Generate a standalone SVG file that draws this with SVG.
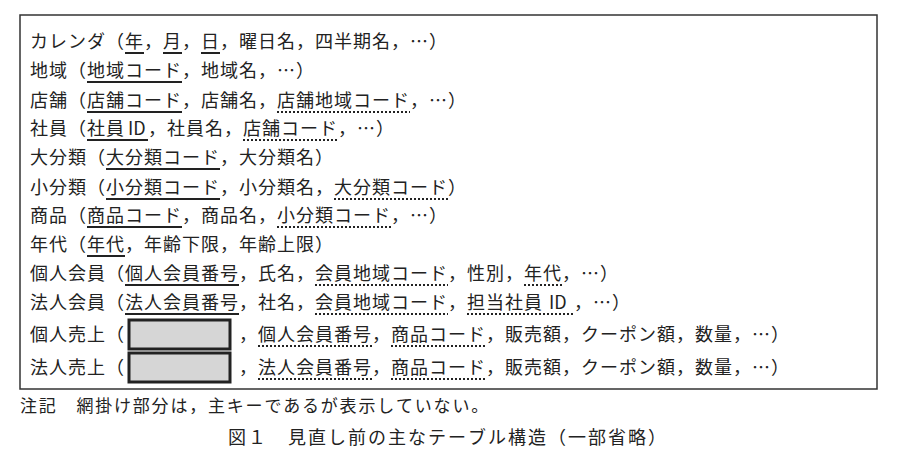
<svg xmlns="http://www.w3.org/2000/svg" width="897" height="467" viewBox="0 0 897 467">
<style>
text{font-family:"Noto Sans CJK JP","Noto Sans",sans-serif;font-size:18px;fill:#222}
.pk{stroke:#222;stroke-width:2}
.fk{stroke:#222;stroke-width:2;stroke-dasharray:2 2}
.hid{fill:#d6d6d6;stroke:#222;stroke-width:3}
</style>
<rect width="897" height="467" fill="#fff"/>
<rect x="20" y="15" width="857" height="374" fill="none" stroke="#333" stroke-width="1.5"/>
<g id="rows">
<text x="30 49 68 87 106 125 144 163 182 201 220 239 258 277 296 315 334 353 372 391 410 429 448 467 486 505 524 543 562 581 600 619 638 657 676 695" y="48">カレンダ（年，月，日，曜日名，四半期名，…）</text>
<text x="30 49 68 87 106 125 144 163 182 201 220 239 258 277 296 315 334 353 372 391 410 429 448 467 486 505 524 543 562 581 600 619 638 657 676 695" y="77">地域（地域コード，地域名，…）</text>
<text x="30 49 68 87 106 125 144 163 182 201 220 239 258 277 296 315 334 353 372 391 410 429 448 467 486 505 524 543 562 581 600 619 638 657 676 695" y="107">店舗（店舗コード，店舗名，店舗地域コード，…）</text>
<text x="30 49 68 87 106" y="135">社員（社員</text>
<text x="128" y="135">ID</text>
<text x="148 167 186 205 224 243 262 281 300 319 338 357 376" y="135">，社員名，店舗コード，…）</text>
<text x="30 49 68 87 106 125 144 163 182 201 220 239 258 277 296 315 334 353 372 391 410 429 448 467 486 505 524 543 562 581 600 619 638 657 676 695" y="164">大分類（大分類コード，大分類名）</text>
<text x="30 49 68 87 106 125 144 163 182 201 220 239 258 277 296 315 334 353 372 391 410 429 448 467 486 505 524 543 562 581 600 619 638 657 676 695" y="194">小分類（小分類コード，小分類名，大分類コード）</text>
<text x="30 49 68 87 106 125 144 163 182 201 220 239 258 277 296 315 334 353 372 391 410 429 448 467 486 505 524 543 562 581 600 619 638 657 676 695" y="222">商品（商品コード，商品名，小分類コード，…）</text>
<text x="30 49 68 87 106 125 144 163 182 201 220 239 258 277 296 315 334 353 372 391 410 429 448 467 486 505 524 543 562 581 600 619 638 657 676 695" y="251">年代（年代，年齢下限，年齢上限）</text>
<text x="30 49 68 87 106 125 144 163 182 201 220 239 258 277 296 315 334 353 372 391 410 429 448 467 486 505 524 543 562 581 600 619 638 657 676 695" y="280">個人会員（個人会員番号，氏名，会員地域コード，性別，年代，…）</text>
<text x="30 49 68 87 106 125 144 163 182 201 220 239 258 277 296 315 334 353 372 391 410 429 448 467 486 505 524 543 562 581 600 619 638 657 676 695" y="309">法人会員（法人会員番号，社名，会員地域コード，担当社員</text>
<text x="549" y="309">ID</text>
<text x="574 593 612" y="309">，…）</text>
<text x="30 49 68 87 106" y="341">個人売上（</text>
<text x="239 258 277 296 315 334 353 372 391 410 429 448 467 486 505 524 543 562 581 600 619 638 657 676 695 714 733 752 771 790" y="341">，個人会員番号，商品コード，販売額，クーポン額，数量，…）</text>
<text x="30 49 68 87 106" y="374">法人売上（</text>
<text x="239 258 277 296 315 334 353 372 391 410 429 448 467 486 505 524 543 562 581 600 619 638 657 676 695 714 733 752 771 790" y="374">，法人会員番号，商品コード，販売額，クーポン額，数量，…）</text>
</g>
<g id="hidden-keys">
<rect class="hid" x="129" y="320" width="101" height="29"/>
<rect class="hid" x="129" y="353" width="101" height="29"/>
</g>
<g id="underlines">
<line class="pk" x1="125" y1="53" x2="144" y2="53"/>
<line class="pk" x1="163" y1="53" x2="182" y2="53"/>
<line class="pk" x1="201" y1="53" x2="220" y2="53"/>
<line class="pk" x1="87" y1="82" x2="182" y2="82"/>
<line class="pk" x1="87" y1="112" x2="182" y2="112"/>
<line class="fk" x1="277" y1="112" x2="410" y2="112"/>
<line class="pk" x1="87" y1="140" x2="148" y2="140"/>
<line class="fk" x1="243" y1="140" x2="338" y2="140"/>
<line class="pk" x1="106" y1="169" x2="220" y2="169"/>
<line class="pk" x1="106" y1="199" x2="220" y2="199"/>
<line class="fk" x1="334" y1="199" x2="448" y2="199"/>
<line class="pk" x1="87" y1="227" x2="182" y2="227"/>
<line class="fk" x1="277" y1="227" x2="391" y2="227"/>
<line class="pk" x1="87" y1="256" x2="125" y2="256"/>
<line class="pk" x1="125" y1="285" x2="239" y2="285"/>
<line class="fk" x1="315" y1="285" x2="448" y2="285"/>
<line class="fk" x1="524" y1="285" x2="562" y2="285"/>
<line class="pk" x1="125" y1="314" x2="239" y2="314"/>
<line class="fk" x1="315" y1="314" x2="448" y2="314"/>
<line class="fk" x1="467" y1="314" x2="574" y2="314"/>
<line class="fk" x1="258" y1="346" x2="372" y2="346"/>
<line class="fk" x1="391" y1="346" x2="486" y2="346"/>
<line class="fk" x1="258" y1="379" x2="372" y2="379"/>
<line class="fk" x1="391" y1="379" x2="486" y2="379"/>
</g>
<text x="20 38.8 57.6 76.4 95.2 114 132.8 151.6 170.4 189.2 208 226.8 245.6 264.4 283.2 302 320.8 339.6 358.4 377.2 396 414.8 433.6 452.4 471.2" y="412" style="font-size:17px">注記　網掛け部分は，主キーであるが表示していない。</text>
<text x="228 248 268 288 308 328 348 368 388 408 428 448 468 488 508 528 548 568 588 608 628 648" y="444">図１　見直し前の主なテーブル構造（一部省略）</text>
</svg>
